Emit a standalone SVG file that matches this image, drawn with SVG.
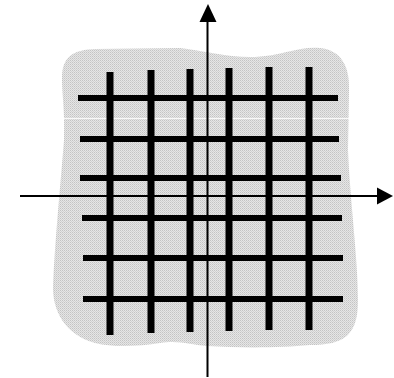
<svg xmlns="http://www.w3.org/2000/svg" width="394" height="378" viewBox="0 0 394 378">
  <defs>
    <pattern id="dots" width="2" height="2" patternUnits="userSpaceOnUse">
      <rect width="2" height="2" fill="#e6e6e6"/>
      <rect x="0" y="0" width="1" height="1" fill="#c4c4c4"/>
      <rect x="1" y="1" width="1" height="1" fill="#d2d2d2"/>
    </pattern>
    <marker id="arrow" viewBox="0 0 10 10" refX="0" refY="5" markerWidth="8" markerHeight="8" markerUnits="userSpaceOnUse" orient="auto">
      <path d="M0,0 L10,5 L0,10 Z" fill="#000"/>
    </marker>
  </defs>
  <style>
    .hbar { stroke: #000; stroke-width: 6; }
    .vbar { stroke: #000; stroke-width: 7; }
    .axis { stroke: #000; stroke-width: 2; fill: none; }
    .head { fill: #000; }
  </style>
  <rect width="394" height="378" fill="#fff"/>
  <g id="region">
    <path d="M62,78 C62,55 75,50 95,49 L180,48 C200,50 230,58 255,57 C280,56 300,46 320,48 C340,50 350,65 349,90 L348,150 C350,200 358,260 358,300 C358,335 345,345 310,345 C280,348 240,348 207,346 C190,345 180,340 160,343 C140,346 115,348 95,343 C65,335 52,310 53,285 C55,240 60,190 64,140 C65,110 62,95 62,78 Z" fill="url(#dots)"/>
    <line x1="63" y1="118.5" x2="349" y2="118.5" stroke="#fff" stroke-width="1" opacity="0.85"/>
  </g>
  <g id="grid">
    <line class="hbar" x1="78" y1="98" x2="338" y2="98"/>
    <line class="hbar" x1="80" y1="139" x2="339" y2="139"/>
    <line class="hbar" x1="80" y1="178" x2="341" y2="178"/>
    <line class="hbar" x1="82" y1="218" x2="342" y2="218"/>
    <line class="hbar" x1="83" y1="258" x2="343" y2="258"/>
    <line class="hbar" x1="83" y1="299" x2="343" y2="299"/>
    <line class="vbar" x1="110" y1="72" x2="110" y2="335"/>
    <line class="vbar" x1="151" y1="70" x2="151" y2="333"/>
    <line class="vbar" x1="190" y1="69" x2="190" y2="332"/>
    <line class="vbar" x1="229" y1="68" x2="229" y2="331"/>
    <line class="vbar" x1="269" y1="67" x2="269" y2="330"/>
    <line class="vbar" x1="309" y1="67" x2="309" y2="330"/>
  </g>
  <g id="axes">
    <line class="axis" x1="207.5" y1="377" x2="207.5" y2="20"/>
    <path class="head" d="M208,4 L216.5,22 L199.5,22 Z"/>
    <line class="axis" x1="20" y1="196" x2="379" y2="196"/>
    <path class="head" d="M393,196 L377,187.5 L377,204.5 Z"/>
  </g>
</svg>
